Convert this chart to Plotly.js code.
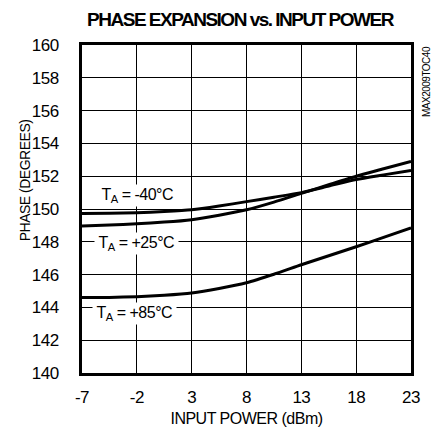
<!DOCTYPE html>
<html>
<head>
<meta charset="utf-8">
<script src="https://cdn.plot.ly/plotly-3.0.1.min.js"></script>
<style>
html,body{margin:0;padding:0;background:#fff;}
#chart{width:434px;height:434px;}
#chart .gtitle{letter-spacing:-1.5px;}
#chart .annotation-text, #chart .xtick text, #chart .ytick text, #chart .xtitle{letter-spacing:-0.5px;}
</style>
</head>
<body>
<div id="chart"></div>
<script>
const inputPower = [-7, -4.5, -2, 0.5, 3, 5.5, 8, 10.5, 13, 15.5, 18, 20.5, 23];
const phaseM40 = [149.72, 149.74, 149.77, 149.84, 149.95, 150.18, 150.45, 150.72, 151.0, 151.4, 151.8, 152.08, 152.35];
const phase25 = [148.97, 149.02, 149.1, 149.2, 149.35, 149.62, 149.95, 150.42, 150.95, 151.48, 152.0, 152.45, 152.9];
const phase85 = [144.6, 144.61, 144.65, 144.74, 144.88, 145.15, 145.5, 146.02, 146.6, 147.15, 147.7, 148.27, 148.85];
const xTicks = [-7, -2, 3, 8, 13, 18, 23];
const yTicks = [140, 142, 144, 146, 148, 150, 152, 154, 156, 158, 160];
const labels = ['T<sub>A</sub> = -40°C', 'T<sub>A</sub> = +25°C', 'T<sub>A</sub> = +85°C'];

const FONT = 'Liberation Sans, Arial, sans-serif';
const lineStyle = {color: '#000', width: 3, shape: 'spline', smoothing: 0.6};
const traces = [phaseM40, phase25, phase85].map(function (ys) {
  return {x: inputPower, y: ys, mode: 'lines', line: lineStyle, hoverinfo: 'skip'};
});

// pixel helpers for placing free text relative to the plot area (l=82, r=411, t=45, b=373)
function px(x) { return (x - 82) / 329; }
function py(y) { return (373 - y) / 328; }

const layout = {
  width: 434, height: 434,
  margin: {l: 82, r: 23, t: 45, b: 61},
  paper_bgcolor: '#fff', plot_bgcolor: '#fff',
  showlegend: false,
  font: {family: FONT, color: '#000', size: 15},
  title: {text: '<b>PHASE EXPANSION vs. INPUT POWER</b>', font: {family: FONT, size: 19, color: '#000'},
          x: 240 / 434, xanchor: 'center', y: 1 - 19.5 / 434, yanchor: 'middle'},
  xaxis: {
    range: [-7, 23], tickvals: xTicks, ticktext: xTicks.map(String),
    showgrid: true, gridcolor: '#000', gridwidth: 1,
    showline: true, mirror: true, linecolor: '#000', linewidth: 3,
    zeroline: false, ticks: 'outside', ticklen: 7, tickcolor: 'rgba(0,0,0,0)',
    tickfont: {family: FONT, size: 17},
    title: {text: 'INPUT POWER (dBm)', font: {family: FONT, size: 16}, standoff: 7}
  },
  yaxis: {
    range: [140, 160], tickvals: yTicks, ticktext: yTicks.map(String),
    showgrid: true, gridcolor: '#000', gridwidth: 1,
    showline: true, mirror: true, linecolor: '#000', linewidth: 3,
    zeroline: false, ticks: 'outside', ticklen: 17, tickcolor: 'rgba(0,0,0,0)',
    tickfont: {family: FONT, size: 17}
  },
  annotations: [
    {x: -1.9, y: 150.85, xref: 'x', yref: 'y', text: labels[0], showarrow: false, bgcolor: '#fff', borderpad: 1, font: {family: FONT, size: 16}},
    {x: -2.0, y: 147.9, xref: 'x', yref: 'y', text: labels[1], showarrow: false, bgcolor: '#fff', borderpad: 1, font: {family: FONT, size: 16}},
    {x: -2.2, y: 143.6, xref: 'x', yref: 'y', text: labels[2], showarrow: false, bgcolor: '#fff', borderpad: 1, font: {family: FONT, size: 16}},
    {x: px(25), y: py(181), xref: 'paper', yref: 'paper', xanchor: 'center', yanchor: 'middle',
     text: 'PHASE (DEGREES)', textangle: -90, showarrow: false, font: {family: FONT, size: 14}},
    {x: px(426), y: py(82), xref: 'paper', yref: 'paper', xanchor: 'center', yanchor: 'middle',
     text: 'MAX2009TOC40', textangle: -90, showarrow: false, font: {family: FONT, size: 10}}
  ]
};
Plotly.newPlot('chart', traces, layout, {staticPlot: true, displayModeBar: false});
</script>
</body>
</html>
